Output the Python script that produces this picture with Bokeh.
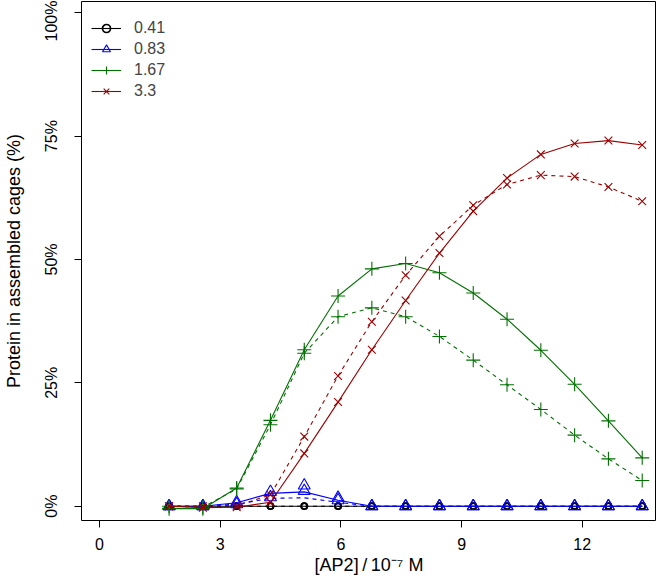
from bokeh.plotting import figure
from bokeh.models import Range1d, Legend, LegendItem, FixedTicker, PrintfTickFormatter
from bokeh.embed import file_html
from bokeh.resources import INLINE

# [AP2] / 1e-7 M
x_ap2 = [1.73, 2.57, 3.41, 4.25, 5.09, 5.93, 6.77, 7.61, 8.45, 9.29, 10.13, 10.97, 11.81, 12.65, 13.49]

series_labels = ["0.41", "0.83", "1.67", "3.3"]

# protein in assembled cages (%), solid and dashed curves
black_solid = [0, 0, 0, 0, 0, 0, 0, 0, 0, 0, 0, 0, 0, 0, 0]
black_dashed = [0, 0, 0, 0, 0, 0, 0, 0, 0, 0, 0, 0, 0, 0, 0]

blue_solid = [0, 0, 0.7, 2.6, 2.9, 1.2, 0, 0, 0, 0, 0, 0, 0, 0, 0]
blue_dashed = [0, 0, 0.4, 1.6, 1.7, 0.8, 0, 0, 0, 0, 0, 0, 0, 0, 0]
blue_solid_pts = [0, 0, 0.8, 2.9, 4.2, 1.7, 0, 0, 0, 0, 0, 0, 0, 0, 0]
blue_dashed_pts = [0, 0, 0.4, 1.8, 3.1, 1.2, 0, 0, 0, 0, 0, 0, 0, 0, 0]

green_solid = [-0.5, -0.5, 3.7, 17.4, 31.7, 42.6, 48.1, 49.2, 47.3, 43.2, 37.9, 31.6, 24.7, 17.3, 9.8]
green_dashed = [0, -0.2, 3.5, 16.5, 31.0, 38.4, 40.2, 38.4, 34.4, 29.6, 24.6, 19.6, 14.4, 9.6, 5.2]

red_solid = [0, -0.3, -0.2, 0.8, 10.7, 21.1, 31.7, 41.7, 51.3, 59.8, 66.5, 71.3, 73.5, 74.1, 73.2]
red_dashed = [0, 0, 0.1, 2.3, 14.1, 26.4, 37.4, 46.8, 54.7, 61.0, 65.2, 67.1, 66.8, 64.7, 61.8]

y_ticks = [0, 25, 50, 75, 100]
x_ticks = [0, 3, 6, 9, 12]

FONT = "Liberation Sans"

p = figure(width=656, height=578, output_backend="svg", toolbar_location=None,
           x_range=Range1d(-0.447, 13.845), y_range=Range1d(-2.90, 102.29),
           min_border_left=71, min_border_right=0, min_border_top=1, min_border_bottom=58)
p.grid.visible = False
p.outline_line_color = "black"
p.outline_line_width = 1
p.background_fill_color = "white"
p.border_fill_color = "white"

for ax in (p.xaxis[0], p.yaxis[0]):
    ax.axis_line_color = None
    ax.major_tick_in = 0
    ax.major_tick_out = 7
    ax.major_tick_line_color = "black"
    ax.minor_tick_line_color = None
    ax.major_label_text_font = FONT
    ax.major_label_text_font_size = "16px"
    ax.major_label_text_color = "black"
    ax.axis_label_text_font = FONT
    ax.axis_label_text_font_size = "18px"
    ax.axis_label_text_font_style = "normal"
    ax.axis_label_text_color = "black"

p.xaxis.ticker = FixedTicker(ticks=x_ticks)
p.yaxis.ticker = FixedTicker(ticks=y_ticks)
p.yaxis.formatter = PrintfTickFormatter(format="%d%%")
p.yaxis.major_label_orientation = "vertical"
p.xaxis.major_label_standoff = 10
p.yaxis.major_label_standoff = 14
p.xaxis.axis_label = "[AP2]\u2009/\u200910\u207b\u2077 M"
p.yaxis.axis_label = "Protein in assembled cages (%)"
p.xaxis.axis_label_standoff = 2
p.yaxis.axis_label_standoff = 17

colors = ["black", "#0000FF", "#007000", "#9A0000"]
markers = ["circle", "triangle", "cross", "x"]
msizes = [6, 12, 14, 11]
solids = [black_solid, blue_solid, green_solid, red_solid]
dasheds = [black_dashed, blue_dashed, green_dashed, red_dashed]
solid_pts = [black_solid, blue_solid_pts, green_solid, red_solid]
dashed_pts = [black_dashed, blue_dashed_pts, green_dashed, red_dashed]

items = []
for i in range(4):
    c = colors[i]
    lw_m = 1.7 if i == 0 else 1.1
    p.line(x_ap2, dasheds[i], line_color=c, line_width=1.1, line_dash="4 4")
    p.scatter(x_ap2, dashed_pts[i], marker=markers[i], size=msizes[i],
              line_color=c, fill_color=None, line_width=lw_m)
    ls = p.line(x_ap2, solids[i], line_color=c, line_width=1.1)
    ms = p.scatter(x_ap2, solid_pts[i], marker=markers[i], size=msizes[i],
                   line_color=c, fill_color=None, line_width=lw_m)
    items.append(LegendItem(label=series_labels[i], renderers=[ls, ms]))

legend = Legend(items=items, location=(10, 419), border_line_color=None,
                background_fill_alpha=0, glyph_width=30, glyph_height=20,
                label_height=20, spacing=1, padding=0, margin=0, label_standoff=13,
                label_text_font=FONT, label_text_font_size="16px")
p.add_layout(legend)

open("out.html", "w").write(file_html(p, INLINE))
